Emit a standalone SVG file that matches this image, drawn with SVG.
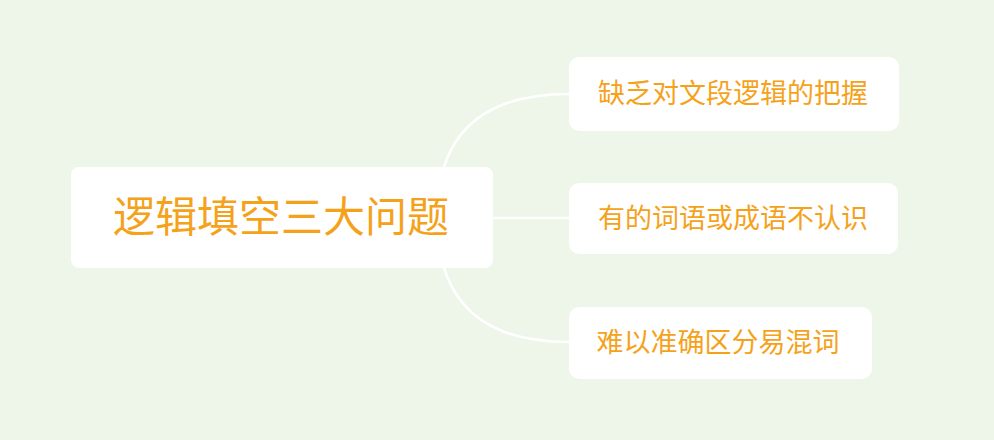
<svg xmlns="http://www.w3.org/2000/svg" width="994" height="440" viewBox="0 0 994 440">
<style>
.node{fill:#ffffff}
.txt{font-family:"Noto Sans CJK SC","Noto Sans",sans-serif;fill:#F5A21B;text-anchor:middle}
.conn{fill:none;stroke:#ffffff;stroke-width:2.5}
</style>
<rect width="994" height="440" fill="#EEF5E9"/>
<g id="connectors">
<path class="conn" d="M437 217 Q437 94 569 94"/>
<path class="conn" d="M440 218 L569 218"/>
<path class="conn" d="M437 217 Q437 342 569 342"/>
</g>
<g id="root">
<rect class="node" x="71" y="167" width="422" height="101" rx="8"/>
<text class="txt" x="281" y="232" font-size="42">逻辑填空三大问题</text>
</g>
<g id="child1">
<rect class="node" x="569" y="57" width="330" height="74" rx="10"/>
<text class="txt" x="733" y="103" font-size="27">缺乏对文段逻辑的把握</text>
</g>
<g id="child2">
<rect class="node" x="569" y="183" width="329" height="71" rx="10"/>
<text class="txt" x="733" y="228" font-size="27">有的词语或成语不认识</text>
</g>
<g id="child3">
<rect class="node" x="569" y="307" width="303" height="72" rx="10"/>
<text class="txt" x="718" y="352" font-size="27">难以准确区分易混词</text>
</g>
</svg>
